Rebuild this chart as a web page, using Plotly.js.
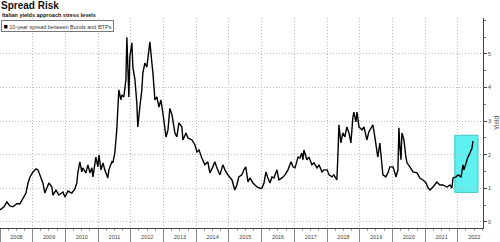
<!DOCTYPE html>
<html>
<head>
<meta charset="utf-8">
<script src="https://cdn.plot.ly/plotly-3.0.1.min.js"></script>
<style>html,body{margin:0;padding:0;background:#fff;}#chart{width:500px;height:242px;}</style>
</head>
<body>
<div id="chart"></div>
<script>
const dates = [
"2008-01-01","2008-02-15","2008-03-18","2008-04-20","2008-05-24","2008-07-08","2008-08-11","2008-09-14","2008-10-17","2008-11-09",
"2008-12-01","2009-01-04","2009-02-07","2009-02-28","2009-04-02","2009-04-24","2009-05-16","2009-06-08","2009-06-30","2009-08-03",
"2009-08-14","2009-09-17","2009-10-20","2009-12-04","2009-12-26","2010-01-29","2010-03-13","2010-04-16","2010-05-08","2010-05-19",
"2010-06-11","2010-07-03","2010-07-14","2010-08-17","2010-09-09","2010-10-01","2010-10-23","2010-11-04","2010-12-07","2010-12-29",
"2011-01-10","2011-02-02","2011-02-24","2011-03-16","2011-04-19","2011-05-01","2011-06-03","2011-06-14","2011-07-06","2011-07-28",
"2011-08-09","2011-08-20","2011-09-12","2011-09-23","2011-10-15","2011-11-07","2011-11-18","2011-11-29","2011-12-10","2011-12-21",
"2012-01-13","2012-01-24","2012-02-16","2012-03-08","2012-03-19","2012-04-11","2012-05-03","2012-05-14","2012-06-06","2012-06-28",
"2012-07-09","2012-08-01","2012-08-23","2012-09-04","2012-09-26","2012-10-18","2012-11-10","2012-12-02","2012-12-24","2013-01-05",
"2013-01-28","2013-02-19","2013-03-12","2013-04-04","2013-04-15","2013-05-07","2013-05-29","2013-06-21","2013-07-24","2013-08-05",
"2013-09-08","2013-09-30","2013-11-14","2013-12-17","2014-01-09","2014-02-01","2014-03-04","2014-04-07","2014-05-10","2014-06-02",
"2014-07-05","2014-07-27","2014-08-19","2014-09-22","2014-10-25","2014-11-17","2014-12-20","2015-02-04","2015-03-07","2015-03-30",
"2015-04-21","2015-05-25","2015-06-16","2015-07-08","2015-08-01","2015-08-23","2015-09-26","2015-11-10","2015-12-13","2016-01-05",
"2016-01-27","2016-02-18","2016-03-11","2016-04-03","2016-04-25","2016-05-17","2016-06-20","2016-07-12","2016-08-15","2016-09-18",
"2016-10-21","2016-11-24","2016-12-16","2017-01-08","2017-02-11","2017-03-03","2017-03-25","2017-04-06","2017-04-17","2017-05-20",
"2017-06-12","2017-07-15","2017-08-07","2017-09-10","2017-10-02","2017-11-05","2017-11-27","2018-01-01","2018-01-23","2018-02-25",
"2018-03-17","2018-04-20","2018-05-01","2018-05-13","2018-06-04","2018-06-26","2018-07-18","2018-08-10","2018-09-02","2018-09-24",
"2018-10-16","2018-10-27","2018-11-19","2018-12-01","2018-12-23","2019-01-26","2019-02-17","2019-03-21","2019-04-12","2019-05-16",
"2019-05-27","2019-06-18","2019-07-10","2019-07-21","2019-08-13","2019-09-05","2019-09-16","2019-10-19","2019-11-11","2019-12-03",
"2020-01-07","2020-01-18","2020-02-10","2020-03-02","2020-03-13","2020-03-24","2020-04-05","2020-04-16","2020-05-08","2020-05-30",
"2020-06-11","2020-07-14","2020-08-17","2020-10-01","2020-11-04","2020-12-07","2021-01-10","2021-02-02","2021-02-24","2021-03-28",
"2021-04-19","2021-05-11","2021-06-14","2021-07-17","2021-09-01","2021-10-04","2021-10-26","2021-11-07","2021-12-10","2022-01-02",
"2022-02-05","2022-02-27","2022-03-09","2022-04-01","2022-04-23","2022-05-15","2022-06-07","2022-06-18"
];
const spread = [
0.36,0.45,0.60,0.48,0.45,0.54,0.54,0.71,0.86,1.16,
1.34,1.49,1.58,1.55,1.34,1.16,0.86,1.00,1.16,1.04,
0.80,0.95,0.80,0.89,0.74,0.92,0.86,0.98,1.16,1.46,
1.79,1.49,1.61,1.46,1.70,1.46,1.61,1.34,1.93,1.64,
1.99,1.55,1.76,1.55,1.31,1.55,1.79,1.76,2.05,2.74,
3.54,3.93,3.63,3.78,3.72,4.23,5.50,4.61,3.72,4.91,
5.33,4.61,4.23,3.54,2.83,3.42,3.93,4.43,4.73,4.61,
4.82,5.36,4.73,4.43,3.63,3.72,3.42,3.63,3.24,3.04,
2.53,2.74,3.38,3.20,3.04,2.65,2.53,2.95,2.83,2.44,
2.65,2.50,2.44,2.29,2.08,2.14,1.90,1.70,1.79,1.46,
1.64,1.79,1.61,1.40,1.70,1.55,1.40,1.25,0.95,1.10,
1.34,1.40,1.55,1.64,1.19,1.31,1.16,1.04,1.00,1.01,
1.16,1.49,1.31,1.16,1.34,1.31,1.55,1.25,1.31,1.40,
1.55,1.79,1.64,1.61,1.93,1.90,2.05,1.85,2.14,1.85,
1.93,1.70,1.76,1.61,1.70,1.49,1.55,1.55,1.40,1.34,
1.40,1.25,1.93,2.89,2.35,2.65,2.53,2.83,2.65,2.35,
3.12,3.27,2.98,3.27,2.83,2.74,2.83,2.44,2.68,2.83,
2.89,2.53,2.05,1.93,2.35,1.76,1.40,1.34,1.46,1.64,
1.64,1.55,1.34,1.55,2.80,2.23,1.85,2.65,2.44,1.93,
1.76,1.64,1.49,1.46,1.30,1.25,1.16,1.01,0.95,1.04,
1.10,1.19,1.10,1.10,1.04,1.10,1.01,1.31,1.34,1.40,
1.34,1.70,1.55,1.76,1.93,2.05,2.20,2.41
];
const seriesName = "10-year spread between Bunds and BTPs";
const yTickVals = [0,1,2,3,4,5];
const highlightX = ["2021-11-27","2022-08-13"];
const highlightY = [0.88,2.58];

const trace = {
  x: dates, y: spread, type: "scatter", mode: "lines",
  line: {color: "#000", width: 1.4}, showlegend: false, hoverinfo: "skip"
};

const gridDash = "1px,2px";
const layout = {
  width: 500, height: 242,
  margin: {l: 0, r: 17, t: 18, b: 14, pad: 0},
  paper_bgcolor: "#fff", plot_bgcolor: "#fff",
  font: {family: "Liberation Sans, Arial, sans-serif", color: "#444", size: 5.5},
  showlegend: false,
  xaxis: {
    type: "date", range: ["2008-01-01", "2022-10-08"],
    dtick: "M12", tick0: "2008-01-01", ticklabelmode: "period", tickformat: "%Y",
    ticks: "outside", ticklen: 14, tickcolor: "#555", tickwidth: 0.7,
    ticklabelstandoff: -11,
    showline: true, linecolor: "#444", linewidth: 1,
    showgrid: true, gridcolor: "#bbbbbb", griddash: gridDash, gridwidth: 1,
    tickfont: {size: 5.5, color: "#444"},
    minor: {dtick: "M3", ticks: "outside", ticklen: 1.5, tickcolor: "#777", showgrid: false},
    zeroline: false, fixedrange: true
  },
  yaxis: {
    side: "right", range: [-0.18, 6.07],
    tickvals: yTickVals, ticktext: yTickVals.map(String),
    ticks: "outside", ticklen: 3, tickcolor: "#444",
    showline: true, linecolor: "#444", linewidth: 1,
    showgrid: true, gridcolor: "#bbbbbb", griddash: gridDash, gridwidth: 1,
    zeroline: false, tickfont: {size: 5.5, color: "#444"},
    minor: {dtick: 0.5, ticks: "outside", ticklen: 1.5, tickcolor: "#777", showgrid: false},
    title: {text: "Yield", font: {size: 6.5, color: "#444"}, standoff: 4},
    fixedrange: true
  },
  shapes: [{
    type: "rect", xref: "x", yref: "y",
    x0: highlightX[0], x1: highlightX[1], y0: highlightY[0], y1: highlightY[1],
    fillcolor: "#5ff0f0", line: {color: "#39c6c6", width: 1}, layer: "below"
  }],
  annotations: [
    {text: "<b>Spread Risk</b>", xref: "paper", yref: "paper", x: 0, y: 1,
     xanchor: "left", yanchor: "bottom", yshift: 5, xshift: -1, showarrow: false,
     font: {size: 10, color: "#111", family: "Liberation Sans, Arial, sans-serif"}},
    {text: "<b>Italian yields approach stress levels</b>", xref: "paper", yref: "paper", x: 0, y: 1,
     xanchor: "left", yanchor: "bottom", yshift: -2, showarrow: false,
     font: {size: 5.5, color: "#111", family: "Liberation Sans, Arial, sans-serif"}},
    {text: "<span style='font-size:7px;color:#000'>■</span> " + seriesName, xref: "paper", yref: "paper", x: 0, y: 1,
     xanchor: "left", yanchor: "top", xshift: 1, yshift: -2, showarrow: false,
     bordercolor: "#777", borderwidth: 1, borderpad: 1.5, bgcolor: "#fff",
     font: {size: 5.5, color: "#333", family: "Liberation Sans, Arial, sans-serif"}}
  ]
};

Plotly.newPlot("chart", [trace], layout, {displayModeBar: false, staticPlot: true});
</script>
</body>
</html>
